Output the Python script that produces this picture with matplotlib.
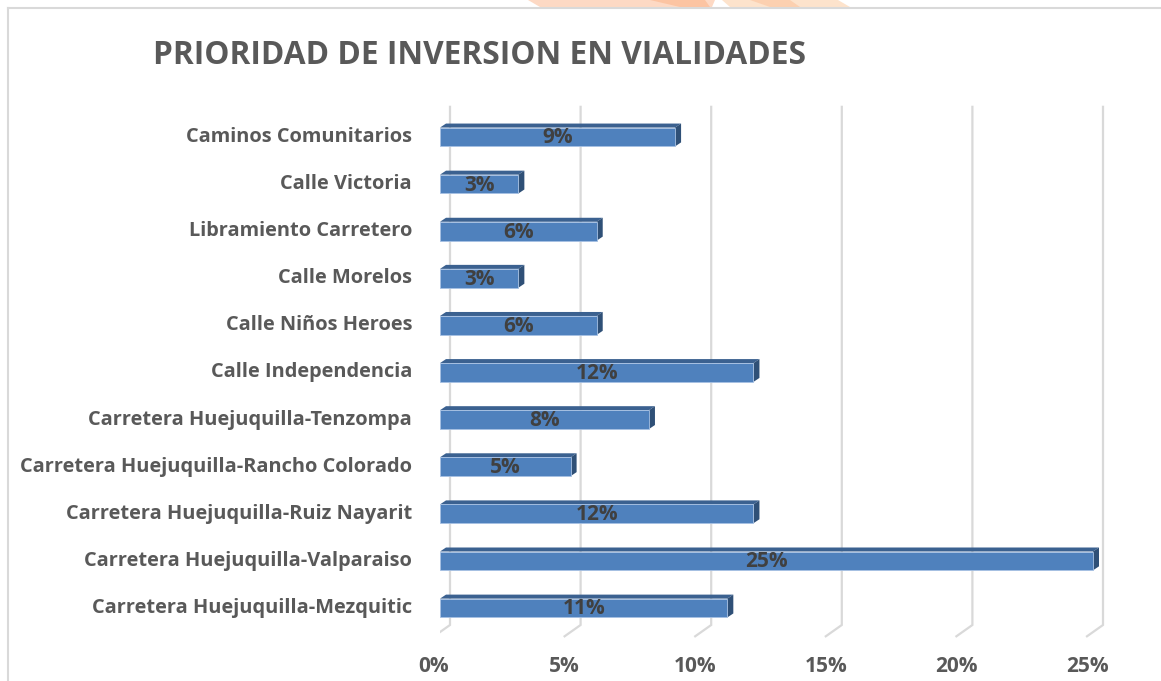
import matplotlib
matplotlib.use("Agg")
import matplotlib.pyplot as plt
from matplotlib.patches import Polygon
from matplotlib.lines import Line2D

categories = [
    "Carretera Huejuquilla-Mezquitic",
    "Carretera Huejuquilla-Valparaiso",
    "Carretera Huejuquilla-Ruiz Nayarit",
    "Carretera Huejuquilla-Rancho Colorado",
    "Carretera Huejuquilla-Tenzompa",
    "Calle Independencia",
    "Calle Niños Heroes",
    "Calle Morelos",
    "Libramiento Carretero",
    "Calle Victoria",
    "Caminos Comunitarios",
]
values = [11, 25, 12, 5, 8, 12, 6, 3, 6, 3, 9]
value_labels = ["11%", "25%", "12%", "5%", "8%", "12%", "6%", "3%", "6%", "3%", "9%"]
xticks = [0, 5, 10, 15, 20, 25]
xtick_labels = ["0%", "5%", "10%", "15%", "20%", "25%"]
title = "PRIORIDAD DE INVERSION EN VIALIDADES"

FONT = "Open Sans"

W, H = 1161, 681
fig = plt.figure(figsize=(W / 100, H / 100), dpi=100)
fig.patch.set_facecolor("white")

px_per_unit = 26.12
xmax = 26.5
y_top_px, y_bot_px = 104, 641
ax = fig.add_axes([440 / W, (H - y_bot_px) / H, xmax * px_per_unit / W, (y_bot_px - y_top_px) / H])
ax.set_xlim(0, xmax)
ax.set_ylim(-0.7, 10.7)
ax.axis("off")

dx = 6 / px_per_unit
dy = 4 / 47.1
back = 10 / px_per_unit
floor = 6 / px_per_unit

grid_c = "#d9d9d9"
for v in xticks:
    ax.plot([v + back, v + back, v - floor], [10.64, -0.36, -0.60],
            color=grid_c, lw=1.6, solid_joinstyle="miter", zorder=1)

bar_h = 0.40
front_c = "#4f81bd"
top_c = "#3b6190"
side_c = "#2f5077"
for i, (v, lab) in enumerate(zip(values, value_labels)):
    ax.barh(i, v, height=bar_h, color=front_c, edgecolor="#a7c1e3", linewidth=0.6, zorder=3)
    yt = i + bar_h / 2
    yb = i - bar_h / 2
    ax.add_patch(Polygon([(0, yt), (v, yt), (v + dx, yt + dy), (dx, yt + dy)],
                         closed=True, facecolor=top_c, edgecolor="none", zorder=2))
    ax.add_patch(Polygon([(v, yb), (v, yt), (v + dx, yt + dy), (v + dx, yb + dy)],
                         closed=True, facecolor=side_c, edgecolor="none", zorder=2))
    ax.text(v / 2, i - 0.02, lab, ha="center", va="center", fontsize=15,
            fontweight="bold", color="#404040", family=FONT, zorder=4)
    ax.text(-28 / px_per_unit, i, categories[i], ha="right", va="center", fontsize=14.4,
            fontweight="bold", color="#595959", family=FONT, clip_on=False)

for v, lab in zip(xticks, xtick_labels):
    ax.text(v - floor, -1.24, lab, ha="center", va="center", fontsize=15,
            fontweight="bold", color="#595959", family=FONT, clip_on=False)

fig.text(153 / W, 1 - 55 / H, title, ha="left", va="center", fontsize=22.8,
         fontweight="bold", color="#595959", family=FONT)

fig.add_artist(Line2D([8 / W, 8 / W], [0, 1 - 8 / H], color="#d9d9d9", lw=1.5))
fig.add_artist(Line2D([8 / W, 1], [1 - 8 / H, 1 - 8 / H], color="#d9d9d9", lw=1.5))

fig.add_artist(Polygon([(528 / W, 1), (715 / W, 1), (712 / W, 1 - 7 / H), (540 / W, 1 - 7 / H)],
                       closed=True, transform=fig.transFigure, facecolor="#fdd9c4", edgecolor="none"))
fig.add_artist(Polygon([(650 / W, 1), (705 / W, 1), (710 / W, 1 - 7 / H), (680 / W, 1 - 7 / H)],
                       closed=True, transform=fig.transFigure, facecolor="#fcc4a2", edgecolor="none"))
fig.add_artist(Polygon([(722 / W, 1), (838 / W, 1), (850 / W, 1 - 7 / H), (730 / W, 1 - 7 / H)],
                       closed=True, transform=fig.transFigure, facecolor="#fde3cc", edgecolor="none"))
fig.add_artist(Polygon([(750 / W, 1), (790 / W, 1), (800 / W, 1 - 7 / H), (770 / W, 1 - 7 / H)],
                       closed=True, transform=fig.transFigure, facecolor="#fcd0b0", edgecolor="none"))

fig.savefig("out.png", dpi=100, facecolor="white")
